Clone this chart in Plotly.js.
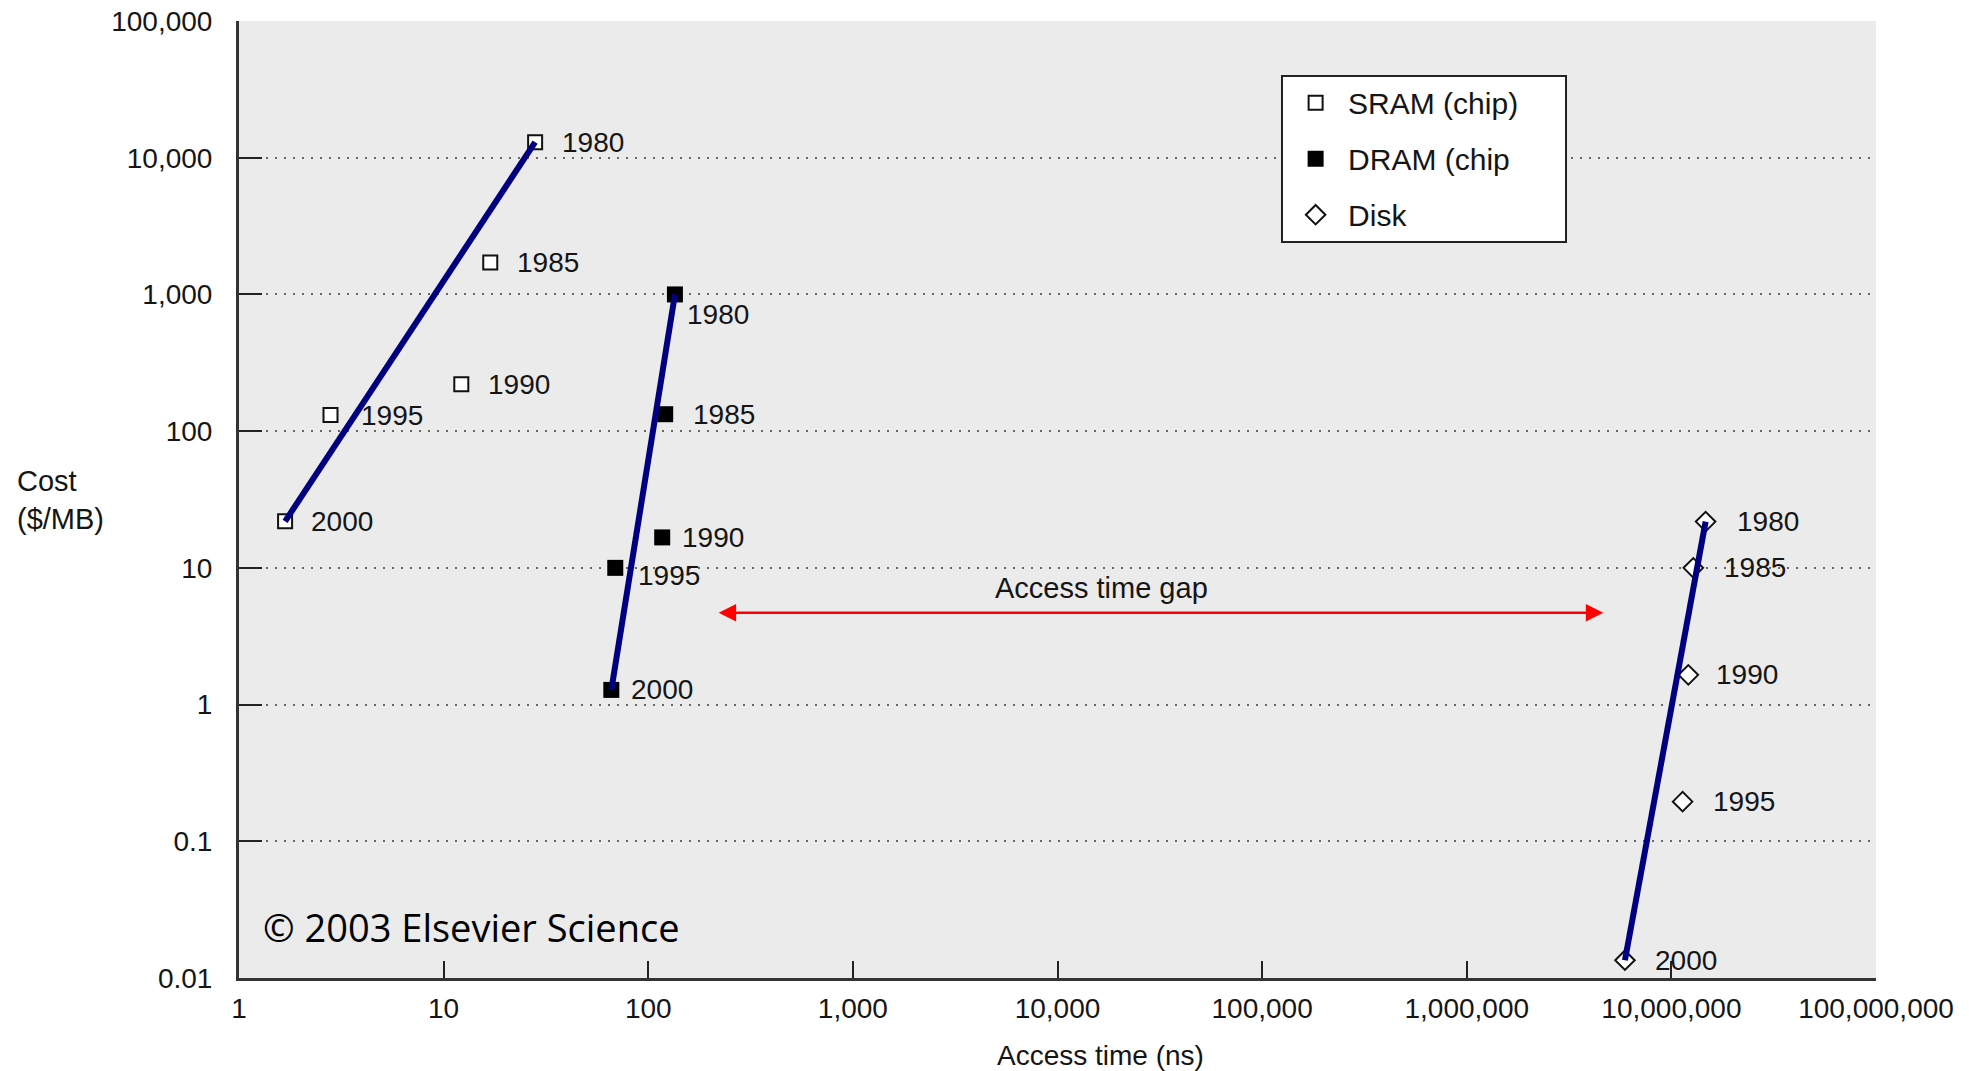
<!DOCTYPE html>
<html><head><meta charset="utf-8">
<script src="https://cdn.plot.ly/plotly-3.0.1.min.js"></script>
<style>html,body{margin:0;padding:0;background:#fff;} #chart{width:1969px;height:1071px;}</style>
</head><body><div id="chart"></div>
<script>
// ---------- data ----------
const years = ['1980', '1985', '1990', '1995', '2000'];
const sramAccess = [28, 16.9, 12.2, 2.8, 1.68];
const sramCost   = [13000, 1715, 220, 131, 21.9];
const dramAccess = [135, 121, 117, 69, 66];
const dramCost   = [1000, 133, 16.7, 10, 1.28];
const diskAccess = [14.7e6, 12.8e6, 12.1e6, 11.35e6, 5.93e6];
const diskCost   = [21.8, 10, 1.65, 0.195, 0.0135];
const seriesNames = ['SRAM (chip)', 'DRAM (chip', 'Disk'];
const xTickVals = [1, 10, 100, 1e3, 1e4, 1e5, 1e6, 1e7, 1e8];
const xTickText = ['1', '10', '100', '1,000', '10,000', '100,000', '1,000,000', '10,000,000', '100,000,000'];
const yTickVals = [0.01, 0.1, 1, 10, 100, 1e3, 1e4, 1e5];
const yTickText = ['0.01', '0.1', '1', '10', '100', '1,000', '10,000', '100,000'];
const gapAccess = [217, 4.65e6];
const gapCost = [4.7, 4.7];
const gapLabel = 'Access time gap';
const xTitle = 'Access time (ns)';
const yTitle = 'Cost<br>($/MB)';
const credit = '© 2003 Elsevier Science';

// ---------- styles ----------
const FONT = 'Liberation Sans, Arial, Helvetica, sans-serif';
const TXT = '#151515';
const NAVY = '#000080';
const PAD = '\u00a0\u00a0\u00a0\u00a0\u00a0';
const series = [
  {name: seriesNames[0], x: sramAccess, y: sramCost,
   marker: {symbol: 'square', size: 14, color: '#ffffff', line: {color: '#111', width: 2}},
   shifts: [[25, 0], [25, 0], [25, 0], [28, 0], [24, 0]]},
  {name: seriesNames[1], x: dramAccess, y: dramCost,
   marker: {symbol: 'square', size: 16, color: '#000000', line: {color: '#000', width: 0}},
   shifts: [[10, -20], [26, 0], [18, 0], [21, -8], [18, 0]]},
  {name: seriesNames[2], x: diskAccess, y: diskCost,
   marker: {symbol: 'diamond', size: 15, color: '#ffffff', line: {color: '#111', width: 2}},
   shifts: [[29, 0], [29, 0], [26, 0], [28, 0], [28, 0]]}
];

const traces = [];
series.forEach((s, i) => {
  traces.push({type: 'scatter', mode: 'markers', name: s.name + (i === 0 ? PAD : ''), x: s.x, y: s.y,
    marker: s.marker, legendgroup: 'g' + i, showlegend: true, hoverinfo: 'skip'});
});
series.forEach((s, i) => {
  const n = s.x.length - 1;
  traces.push({type: 'scatter', mode: 'lines', x: [s.x[n], s.x[0]], y: [s.y[n], s.y[0]],
    line: {color: NAVY, width: 6}, showlegend: false, hoverinfo: 'skip'});
});

const annotations = [];
series.forEach(s => {
  s.x.forEach((xv, j) => {
    annotations.push({x: Math.log10(xv), y: Math.log10(s.y[j]), xref: 'x', yref: 'y',
      text: years[j], showarrow: false, xanchor: 'left', yanchor: 'middle',
      xshift: s.shifts[j][0], yshift: s.shifts[j][1],
      font: {family: FONT, size: 28, color: TXT}});
  });
});
// access time gap arrow
annotations.push({x: Math.log10(gapAccess[1]), y: Math.log10(gapCost[1]), xref: 'x', yref: 'y',
  ax: Math.log10(gapAccess[0]), ay: Math.log10(gapCost[0]), axref: 'x', ayref: 'y',
  text: '', showarrow: true, arrowside: 'end+start', arrowhead: 2, startarrowhead: 2,
  arrowsize: 1.4, startarrowsize: 1.4, arrowwidth: 2.5, arrowcolor: '#ff0000', standoff: 0, startstandoff: 0});
annotations.push({x: Math.log10(16400), y: Math.log10(gapCost[0]), xref: 'x', yref: 'y',
  text: gapLabel, showarrow: false, xanchor: 'center', yanchor: 'middle', yshift: 25,
  font: {family: FONT, size: 29, color: TXT}});
// axis titles
annotations.push({xref: 'paper', yref: 'paper', x: -0.1366, y: 0.5, xanchor: 'left', yanchor: 'middle',
  align: 'left', text: yTitle, showarrow: false, font: {family: FONT, size: 29, color: TXT}});
annotations.push({xref: 'paper', yref: 'paper', x: 0.526, y: -0.0805, xanchor: 'center', yanchor: 'middle',
  text: xTitle, showarrow: false, font: {family: FONT, size: 28, color: TXT}});
// credit
annotations.push({xref: 'paper', yref: 'paper', x: 0.0137, y: 0.0533, xanchor: 'left', yanchor: 'middle',
  text: credit, showarrow: false, font: {family: 'Open Sans, sans-serif', size: 38, color: '#000'}});

const layout = {
  width: 1969, height: 1071,
  margin: {l: 239, r: 93, t: 21, b: 93},
  paper_bgcolor: '#ffffff', plot_bgcolor: '#ebebeb',
  font: {family: FONT, color: TXT},
  showlegend: true,
  legend: {x: 0.6366, y: 0.9439, xanchor: 'left', yanchor: 'top', bgcolor: '#ffffff',
    bordercolor: '#222', borderwidth: 2, font: {family: FONT, size: 30, color: TXT},
    traceorder: 'grouped', tracegroupgap: 14, itemwidth: 55},
  xaxis: {type: 'log', range: [0, 8], tickmode: 'array', tickvals: xTickVals, ticktext: xTickText,
    ticks: 'inside', ticklen: 17, tickwidth: 2, tickcolor: '#222', showline: true, linewidth: 3,
    linecolor: '#333', showgrid: false, zeroline: false, tickfont: {family: FONT, size: 28, color: TXT},
    ticklabelstandoff: 3, fixedrange: true},
  yaxis: {type: 'log', range: [-2, 5], tickmode: 'array', tickvals: yTickVals, ticktext: yTickText,
    ticks: 'inside', ticklen: 23, tickwidth: 2, tickcolor: '#222', showline: true, linewidth: 3,
    linecolor: '#333', showgrid: true, gridcolor: '#666', gridwidth: 2, griddash: '2px,7px',
    zeroline: false, tickfont: {family: FONT, size: 28, color: TXT}, ticklabelstandoff: 18, fixedrange: true},
  annotations: annotations
};

Plotly.newPlot('chart', traces, layout, {displayModeBar: false, staticPlot: true});
</script>
</body></html>
